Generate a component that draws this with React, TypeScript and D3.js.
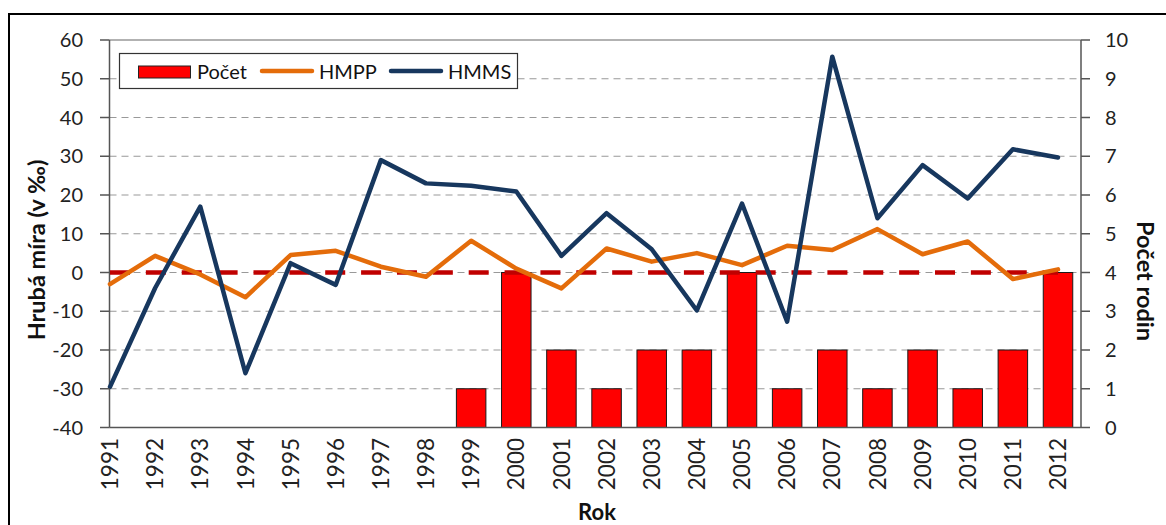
import React from "react";
import * as d3 from "d3";

const years = ["1991","1992","1993","1994","1995","1996","1997","1998","1999","2000","2001","2002","2003","2004","2005","2006","2007","2008","2009","2010","2011","2012"];
const pocet = [0,0,0,0,0,0,0,0,1,4,2,1,2,2,4,1,2,1,2,1,2,4];
const hmpp = [-3,4.3,-0.5,-6.4,4.5,5.6,1.5,-1.1,8.2,1.0,-4.1,6.2,2.8,5,1.9,6.9,5.8,11.2,4.7,8,-1.7,0.8];
const hmms = [-29.5,-4,17,-26,2.4,-3.2,29,23,22.4,20.9,4.3,15.3,6,-9.8,17.8,-12.7,55.7,14,27.7,19.1,31.8,29.7];
const leftTicks = [-40,-30,-20,-10,0,10,20,30,40,50,60];
const rightTicks = [0,1,2,3,4,5,6,7,8,9,10];

const W = 1166, H = 525;
const L = 109.5, R = 1081, T = 40, B = 427.5;
const FONT = "Lato, 'Open Sans', sans-serif";

export default function App() {
  const x = d3.scalePoint<string>().domain(years).range([110, 1058]);
  const yL = d3.scaleLinear().domain([-40, 60]).range([B, T]);
  const yR = d3.scaleLinear().domain([0, 10]).range([B, T]);
  const barW = 29.5;

  const line = (vals: number[]) =>
    d3.line<number>().x((_, i) => x(years[i])!).y((v) => yL(v))(vals) || "";

  const zeroLine = d3.line<string>().x((d) => x(d)!).y(() => yL(0))(years) || "";

  return (
    <svg width={W} height={H} style={{ position: "absolute", left: 0, top: 0, background: "#fff" }}>
      <rect x={0} y={0} width={W} height={H} fill="#fff" />
      {/* outer frame */}
      <rect x={9} y={14} width={1180} height={540} fill="none" stroke="#000" strokeWidth={2} />

      {/* gridlines */}
      {leftTicks.filter((t) => t > -40 && t < 60).map((t) => (
        <line key={"g" + t} x1={L} x2={R} y1={yL(t)} y2={yL(t)} stroke="#999" strokeWidth={1.2} strokeDasharray="7,5" />
      ))}

      {/* bars */}
      {pocet.map((v, i) =>
        v > 0 ? (
          <rect key={"b" + i} x={x(years[i])! - barW / 2} y={yR(v)} width={barW} height={yR(0) - yR(v)}
            fill="#FF0000" stroke="#1a1a1a" strokeWidth={1} />
        ) : null
      )}

      {/* plot area border */}
      <line x1={L} x2={R} y1={T} y2={T} stroke="#666" strokeWidth={1.2} />
      <line x1={L} x2={L} y1={T} y2={B} stroke="#555" strokeWidth={1.5} />
      <line x1={R} x2={R} y1={T} y2={B} stroke="#555" strokeWidth={1.5} />
      <line x1={L} x2={R} y1={B} y2={B} stroke="#555" strokeWidth={1.5} />

      {/* zero dashed line */}
      <path d={zeroLine} fill="none" stroke="#C00000" strokeWidth={4.5} strokeDasharray="20,15.87" />

      {/* series lines */}
      <path d={line(hmpp)} fill="none" stroke="#E46C0A" strokeWidth={4.5} strokeLinejoin="round" strokeLinecap="round" />
      <path d={line(hmms)} fill="none" stroke="#17375E" strokeWidth={4.5} strokeLinejoin="round" strokeLinecap="round" />

      {/* left axis */}
      {leftTicks.map((t) => (
        <g key={"l" + t}>
          <line x1={100} x2={L} y1={yL(t)} y2={yL(t)} stroke="#555" strokeWidth={1.5} />
          <text x={83} y={yL(t)} dy="0.35em" textAnchor="end" fontFamily={FONT} fontSize={20} fill="#222">{t}</text>
        </g>
      ))}
      {/* right axis */}
      {rightTicks.map((t) => (
        <g key={"r" + t}>
          <line x1={R} x2={1090} y1={yR(t)} y2={yR(t)} stroke="#555" strokeWidth={1.5} />
          <text x={1105} y={yR(t)} dy="0.35em" textAnchor="start" fontFamily={FONT} fontSize={20} fill="#222">{t}</text>
        </g>
      ))}
      {/* x labels */}
      {years.map((yv) => (
        <text key={"x" + yv} transform={`translate(${x(yv)},438) rotate(-90)`} dy="0.36em" textAnchor="end"
          fontFamily={FONT} fontSize={22.5} fill="#222">{yv}</text>
      ))}

      {/* axis titles */}
      <text transform="translate(37,250) rotate(-90)" dy="0.36em" textAnchor="middle" fontFamily={FONT} fontWeight="bold" fontSize={23.5} fill="#111">Hrubá míra (v ‰)</text>
      <text transform="translate(1145,281) rotate(90)" dy="0.36em" textAnchor="middle" fontFamily={FONT} fontWeight="bold" fontSize={23.5} fill="#111">Počet rodin</text>
      <text x={597} y={512} dy="0.36em" textAnchor="middle" fontFamily={FONT} fontWeight="bold" fontSize={22} fill="#111">Rok</text>

      {/* legend */}
      <rect x={119.5} y={53.5} width={398} height={35} fill="#fff" stroke="#333" strokeWidth={1.2} />
      <rect x={138.5} y={66} width={52} height={12} fill="#FF0000" stroke="#222" strokeWidth={1} />
      <text x={197} y={72} dy="0.36em" fontFamily={FONT} fontSize={20} fill="#111">Počet</text>
      <line x1={262} x2={312} y1={71} y2={71} stroke="#E46C0A" strokeWidth={4.5} strokeLinecap="round" />
      <text x={319} y={72} dy="0.36em" fontFamily={FONT} fontSize={20} fill="#111">HMPP</text>
      <line x1={391} x2={441} y1={71} y2={71} stroke="#17375E" strokeWidth={4.5} strokeLinecap="round" />
      <text x={448} y={72} dy="0.36em" fontFamily={FONT} fontSize={20} fill="#111">HMMS</text>
    </svg>
  );
}
